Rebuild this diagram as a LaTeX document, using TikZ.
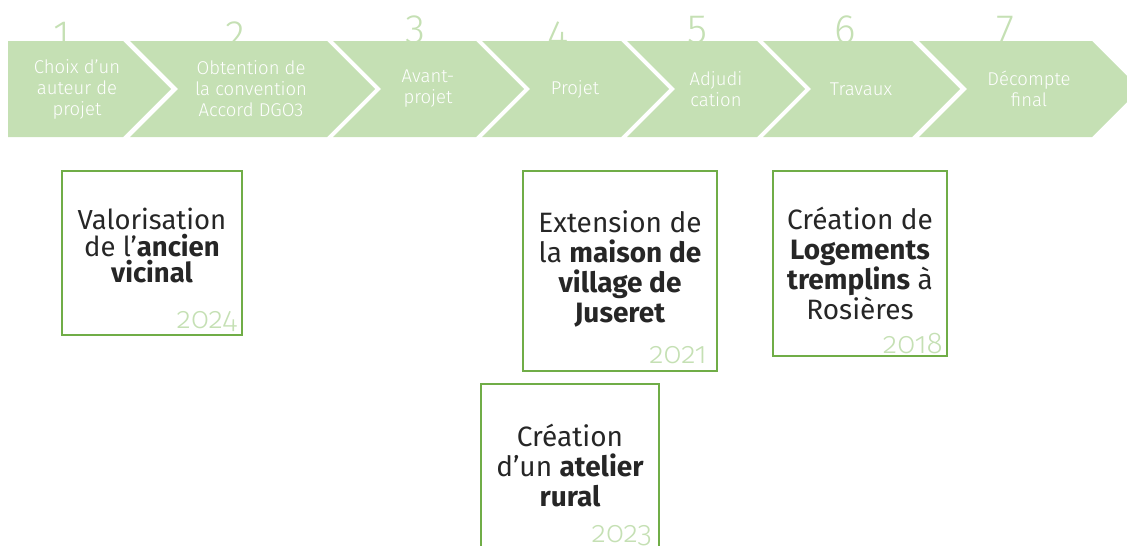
\documentclass[tikz,border=0pt]{standalone}
\usepackage{fontspec}
\setmainfont{Fira Sans}
\newfontfamily\lightfont{Fira Sans Light}
\definecolor{bandgreen}{HTML}{C5E0B4}
\definecolor{boxgreen}{HTML}{70AD47}
\definecolor{inkgray}{HTML}{262626}
\tikzset{
  stepnum/.style={text=bandgreen, font=\lightfont\fontsize{41}{41}\selectfont, anchor=base, inner sep=0pt},
  steplabel/.style={text=white, font=\lightfont\fontsize{18.5}{21}\selectfont, align=center, inner sep=0pt},
  projbox/.style={draw=boxgreen, line width=1.3pt},
  projtext/.style={text=inkgray, font=\fontsize{28}{30}\selectfont, align=center, inner sep=0pt},
  yeartext/.style={text=bandgreen, font=\lightfont\fontsize{30}{30}\selectfont\addfontfeatures{Numbers=OldStyle}, anchor=base east, inner sep=0pt},
}
\begin{document}
\begin{tikzpicture}[x=1pt, y=-1pt]
    \useasboundingbox (0,0) rectangle (1127,546);
    % step numbers, partly hidden by the band
    \node[stepnum] (n1) at (62,49) {1};
    \node[stepnum] (n2) at (235,49) {2};
    \node[stepnum] (n3) at (415,43) {3};
    \node[stepnum] (n4) at (558,49) {4};
    \node[stepnum] (n5) at (697,43) {5};
    \node[stepnum] (n6) at (845,43) {6};
    \node[stepnum] (n7) at (1005,43) {7};
    % chevron band
    \fill[bandgreen] (8,41) -- (123,41) -- (171,89) -- (123,137) -- (8,137) -- cycle;
    \fill[bandgreen] (130,41) -- (327,41) -- (375,89) -- (327,137) -- (130,137) -- (178,89) -- cycle;
    \fill[bandgreen] (333,41) -- (476,41) -- (524,89) -- (476,137) -- (333,137) -- (381,89) -- cycle;
    \fill[bandgreen] (482,41) -- (621,41) -- (669,89) -- (621,137) -- (482,137) -- (530,89) -- cycle;
    \fill[bandgreen] (627,41) -- (757,41) -- (805,89) -- (757,137) -- (627,137) -- (675,89) -- cycle;
    \fill[bandgreen] (763,41) -- (912,41) -- (960,89) -- (912,137) -- (763,137) -- (811,89) -- cycle;
    \fill[bandgreen] (919,41) -- (1092,41) -- (1140,89) -- (1092,137) -- (919,137) -- (967,89) -- cycle;
    \node[steplabel] (s1) at (77,89) {Choix d’un\\auteur de\\projet};
    \node[steplabel] (s2) at (251,89) {Obtention de\\la convention\\Accord DGO3};
    \node[steplabel] (s3) at (428,89) {Avant-\\projet};
    \node[steplabel] (s4) at (575,89) {Projet};
    \node[steplabel] (s5) at (716,89) {Adjudi\\cation};
    \node[steplabel] (s6) at (861,89) {Travaux};
    \node[steplabel] (s7) at (1029,89) {Décompte\\final};
    % project boxes
    \draw[projbox] (62,171) rectangle (242,335);
    \draw[projbox] (523,171) rectangle (717,371);
    \draw[projbox] (773,171) rectangle (947,356);
    \draw[projbox] (481,384) rectangle (659,560);
    \node[projtext, font=\fontsize{27.5}{26.5}\selectfont] (p1) at (152,246) {Valorisation\\de l’\textbf{ancien}\\\textbf{vicinal}};
    \node[projtext] (p2) at (620,269) {Extension de\\la \textbf{maison de}\\\textbf{village de}\\\textbf{Juseret}};
    \node[projtext] (p3) at (860,263) {Création de\\\textbf{Logements}\\\textbf{tremplins} à\\Rosières};
    \node[projtext] (p4) at (570,466) {Création\\d’un \textbf{atelier}\\\textbf{rural}};
    \node[yeartext] (y1) at (237,328) {2024};
    \node[yeartext] (y2) at (707,363) {2021};
    \node[yeartext] (y3) at (943,353) {2018};
    \node[yeartext] (y4) at (652,542) {2023};
\end{tikzpicture}
\end{document}
